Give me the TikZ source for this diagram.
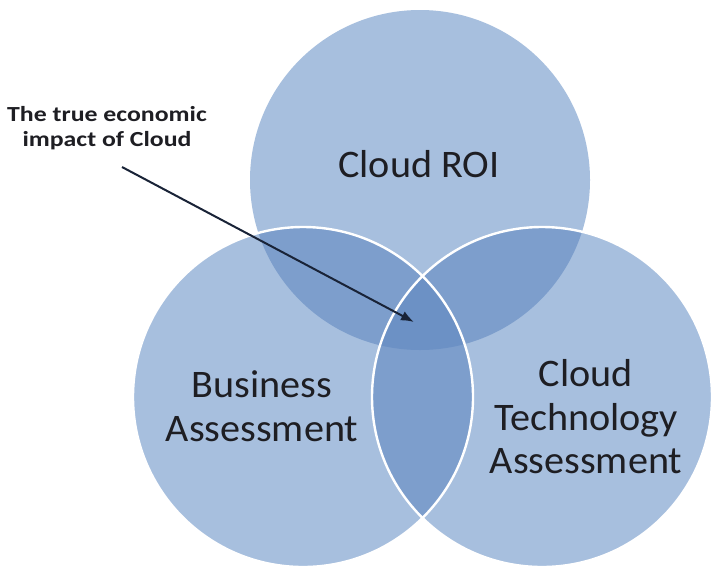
\documentclass[tikz,border=0pt]{standalone}
\usepackage{fontspec}
\setmainfont{Carlito}
\newfontfamily\calib[FakeStretch=1.2]{Carlito}
\newfontfamily\calibb[FakeStretch=1.03]{Carlito}
\usetikzlibrary{arrows.meta}
\definecolor{cbase}{RGB}{167,191,222}
\definecolor{cpair}{RGB}{125,158,204}
\definecolor{ctriple}{RGB}{108,145,197}
\definecolor{ctext}{RGB}{30,30,35}
\definecolor{carrow}{RGB}{25,35,55}
\begin{document}
\begin{tikzpicture}[x=1pt,y=-1pt,
  bigtext/.style={font=\calibb\fontsize{39}{43.5}\selectfont, text=ctext, align=center, inner sep=0pt},
  notetext/.style={font=\calib\bfseries\fontsize{21.5}{25}\selectfont, text=ctext, align=center, inner sep=0pt},
  ring/.style={draw=white, line width=2.4pt}]
\fill[white] (0,0) rectangle (714,571);
\useasboundingbox (0,0) rectangle (714,571);
% circles
\def\roi{(420,180) circle (170)}
\def\bus{(303,397) circle (170)}
\def\tech{(542,397) circle (170)}
\fill[cbase] \roi;
\fill[cbase] \bus;
\fill[cbase] \tech;
\begin{scope}\clip \roi; \fill[cpair] \bus; \fill[cpair] \tech; \end{scope}
\begin{scope}\clip \bus; \fill[cpair] \tech; \end{scope}
\begin{scope}\clip \roi; \clip \bus; \fill[ctriple] \tech; \end{scope}
\draw[ring] \bus;
\draw[ring] \tech;
% texts
\node[bigtext] (roitext) at (419,164) {Cloud ROI};
\node[bigtext] (bustext) at (262,406) {Business\\Assessment};
\node[bigtext] (techtext) at (586,417) {Cloud\\Technology\\Assessment};
\node[notetext] (note) at (107,128) {The true economic\\impact of Cloud};
% arrow
\coordinate (start) at (122,167);
\coordinate (tip) at (414,322);
\draw[carrow, line width=2pt, -{Latex[length=13pt,width=10pt]}] (start) -- (tip);
\end{tikzpicture}
\end{document}
